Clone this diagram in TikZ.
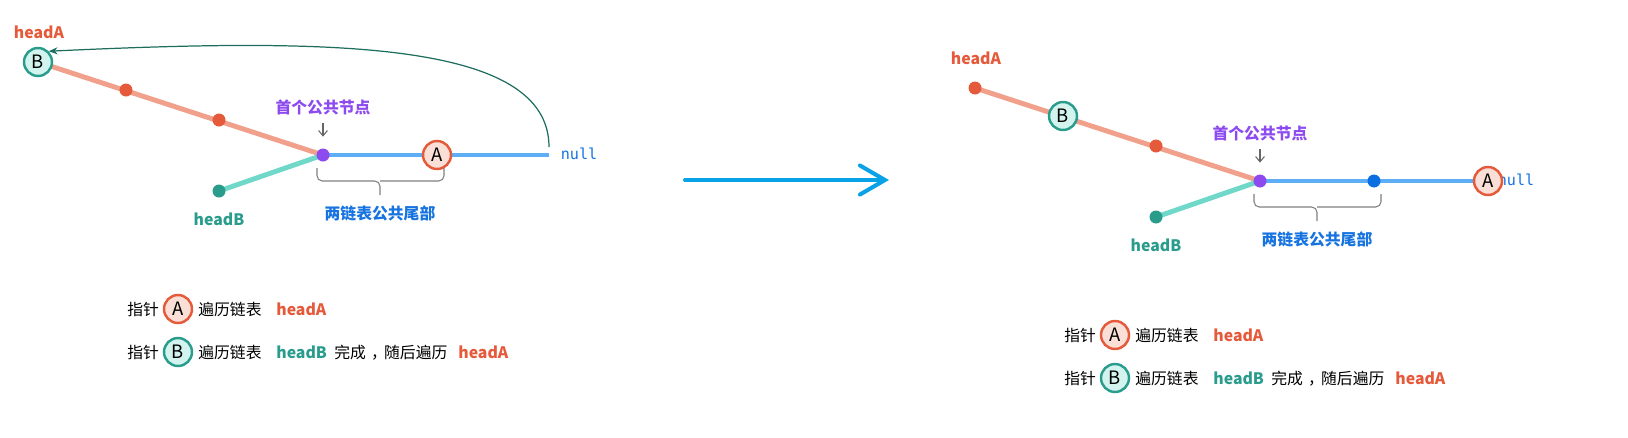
\documentclass[tikz,border=0pt]{standalone}
\usepackage{fontspec}
\setmainfont{Noto Sans CJK SC}
\setmonofont{DejaVu Sans Mono}
\usetikzlibrary{positioning,calc,arrows.meta,backgrounds}

\definecolor{redA}{HTML}{E55A3B}
\definecolor{redL}{HTML}{F0A08B}
\definecolor{pinkA}{HTML}{FADFD7}
\definecolor{tealB}{HTML}{2A9C8C}
\definecolor{tealF}{HTML}{D3F3EE}
\definecolor{tealL}{HTML}{6FD8C8}
\definecolor{purp}{HTML}{8D4BEF}
\definecolor{blueL}{HTML}{5EAEF7}
\definecolor{blueT}{HTML}{1673E0}
\definecolor{blueD}{HTML}{0B6FE2}
\definecolor{skyA}{HTML}{0AA2E6}
\definecolor{curveC}{HTML}{1E6E60}

\newcommand{\wcomma}{\makebox[1.15em]{\hspace{0.5em}，}}

\begin{document}
\begin{tikzpicture}[x=0.02cm, y=-0.02cm, every node/.style={font=\fontsize{9}{11}\selectfont}]
    \tikzset{ptrA/.style={circle, draw=redA, line width=1.4pt, fill=pinkA, minimum size=0.56cm, inner sep=0pt, font=\fontsize{10.5}{11}\selectfont}}
    \tikzset{ptrB/.style={ptrA, draw=tealB, fill=tealF}}
    \tikzset{ndot/.style={circle, fill=#1, minimum size=0.26cm, inner sep=0pt}}
    \tikzset{lbl/.style={text=#1, font=\fontsize{9}{11}\selectfont\bfseries, inner sep=0pt}}
    \tikzset{txt/.style={inner sep=0pt}}
    \tikzset{nulltxt/.style={text=blueT, font=\fontsize{8.6}{10}\selectfont\ttfamily, inner sep=0pt}}
    \tikzset{wire/.style={draw=#1, line width=2.8pt}}
    \tikzset{downarr/.style={draw=gray!80!black, line width=0.6pt, -{Straight Barb[length=3pt,width=5pt]}, shorten <=0.16cm, shorten >=0.23cm}}
    \tikzset{tailbrace/.style={draw=gray, line width=0.6pt, rounded corners=3pt}}
    \tikzset{loopback/.style={draw=curveC, line width=0.7pt, -{Stealth[length=5pt,width=4pt]}}}
    \tikzset{go/.style={draw=skyA, line width=2.3pt, line cap=round, -{Straight Barb[length=0.5cm,width=0.58cm,line cap=round]}}}

    \useasboundingbox (0,0) rectangle (1628,437);

    % Before: B has walked headB and jumps to headA
    \node [ptrB] (l_B) at (38,62) {B};
    \node [ndot=redA] (l_n1) at (126,90) {};
    \node [ndot=redA] (l_n2) at (219,120) {};
    \node [ndot=purp] (l_x) at (323,155) {};
    \node [ptrA] (l_A) at (437,155) {A};
    \coordinate (l_end) at (549,155);
    \coordinate (l_tail) at (549,147);
    \node [ndot=tealB] (l_hb) at (219,191) {};
    \node [nulltxt] (l_null) at (579,154) {null};
    \node [lbl=redA] (l_ha) at (39,32) {headA};
    \node [lbl=tealB] (l_hbl) at (219,219) {headB};
    \node [lbl=purp] (l_xl) at (323,107) {首个公共节点};
    \node [lbl=blueT] (l_tl) at (380,213) {两链表公共尾部};

    \begin{scope}[on background layer]
        \path [wire=redL] (l_B.center) -- (l_x.center);
        \path [wire=blueL] (l_x.center) -- (l_end);
        \path [wire=tealL] (l_hb.center) -- (l_x.center);
    \end{scope}
    \path [downarr] (l_xl) -- (l_x);
    \path [tailbrace] (317,168) -- (317,181) -- (380,181) -- (380,195);
    \path [tailbrace] (444,168) -- (444,181) -- (380,181);
    \path [loopback] (l_tail) .. controls (549,40) and (330,38) .. (l_B.45);

    \node [txt, anchor=base west] (l_k1) at (127,315) {指针};
    \node [ptrA] (l_kA) at (178,309) {A};
    \node [txt, anchor=base west] (l_k2) at (198,315) {遍历链表};
    \node [lbl=redA, anchor=base west] (l_k3) at (276,315) {headA};
    \node [txt, anchor=base west] (l_m1) at (127,358) {指针};
    \node [ptrB] (l_mB) at (178,352) {B};
    \node [txt, anchor=base west] (l_m2) at (198,358) {遍历链表};
    \node [lbl=tealB, anchor=base west] (l_m3) at (276,358) {headB};
    \node [txt, anchor=base west] (l_m4) at (334,358) {完成\wcomma 随后遍历};
    \node [lbl=redA, anchor=base west] (l_m5) at (458,358) {headA};

    % step arrow
    \coordinate (go_s) at (685,180);
    \coordinate (go_e) at (889,180);
    \path [go] (go_s) -- (go_e);

    % After: A and B meet at the common node
    \begin{scope}[shift={(937,26)}]
        \node [ndot=redA] (r_h) at (38,62) {};
        \node [ptrB] (r_B) at (126,90) {B};
        \node [ndot=redA] (r_n2) at (219,120) {};
        \node [ndot=purp] (r_x) at (323,155) {};
        \node [ndot=blueD] (r_n3) at (437,155) {};
        \node [nulltxt] (r_null) at (579,154) {null};
        \node [ptrA] (r_A) at (551,155) {A};
        \node [ndot=tealB] (r_hb) at (219,191) {};
        \node [lbl=redA] (r_ha) at (39,32) {headA};
        \node [lbl=tealB] (r_hbl) at (219,219) {headB};
        \node [lbl=purp] (r_xl) at (323,107) {首个公共节点};
        \node [lbl=blueT] (r_tl) at (380,213) {两链表公共尾部};

        \begin{scope}[on background layer]
            \path [wire=redL] (r_h.center) -- (r_x.center);
            \path [wire=blueL] (r_x.center) -- (r_A.center);
            \path [wire=tealL] (r_hb.center) -- (r_x.center);
        \end{scope}
        \path [downarr] (r_xl) -- (r_x);
        \path [tailbrace] (317,168) -- (317,181) -- (380,181) -- (380,195);
        \path [tailbrace] (444,168) -- (444,181) -- (380,181);

        \node [txt, anchor=base west] (r_k1) at (127,315) {指针};
        \node [ptrA] (r_kA) at (178,309) {A};
        \node [txt, anchor=base west] (r_k2) at (198,315) {遍历链表};
        \node [lbl=redA, anchor=base west] (r_k3) at (276,315) {headA};
        \node [txt, anchor=base west] (r_m1) at (127,358) {指针};
        \node [ptrB] (r_mB) at (178,352) {B};
        \node [txt, anchor=base west] (r_m2) at (198,358) {遍历链表};
        \node [lbl=tealB, anchor=base west] (r_m3) at (276,358) {headB};
        \node [txt, anchor=base west] (r_m4) at (334,358) {完成\wcomma 随后遍历};
        \node [lbl=redA, anchor=base west] (r_m5) at (458,358) {headA};
    \end{scope}
\end{tikzpicture}
\end{document}
